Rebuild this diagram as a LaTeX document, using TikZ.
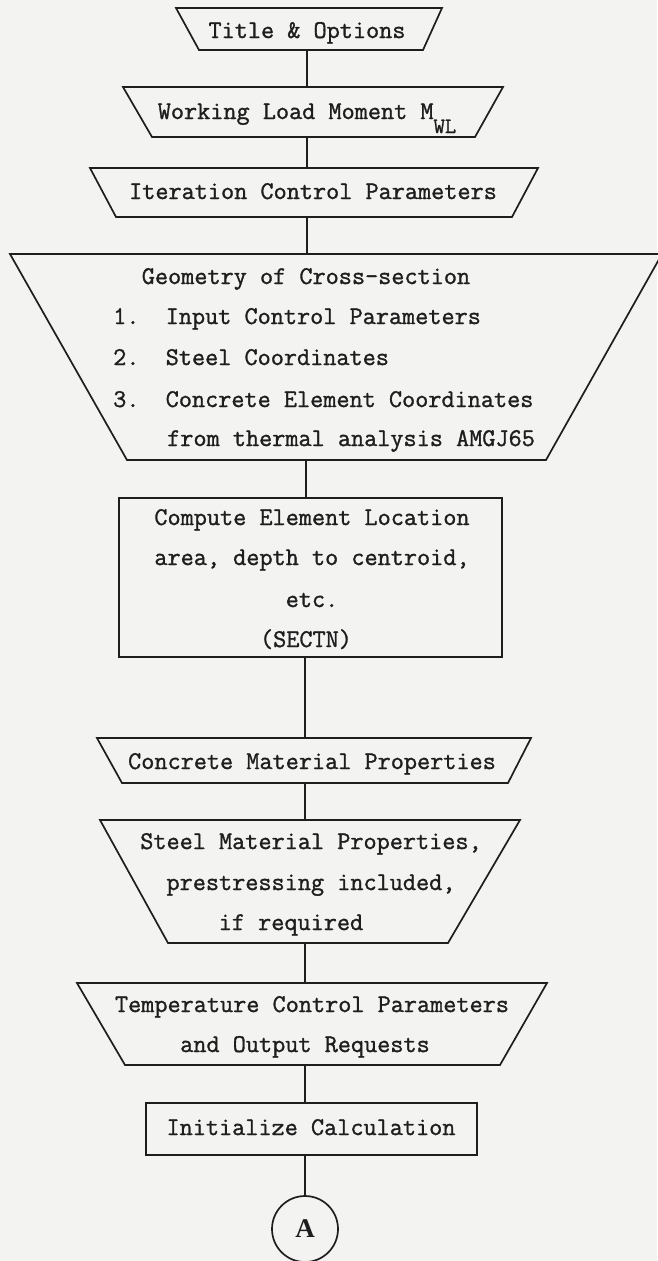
\documentclass[tikz,border=0pt]{standalone}
\usepackage{fontspec}
\newfontfamily\tw[FakeBold=1.2]{Latin Modern Mono}
\newfontfamily\seriff{Liberation Serif}
\definecolor{ink}{RGB}{30,30,30}
\definecolor{paper}{RGB}{243,243,241}
\begin{document}
\begin{tikzpicture}[x=1pt,y=-1pt,
  shp/.style={draw=ink, line width=1.7pt, line join=miter},
  link/.style={draw=ink, line width=1.5pt},
  lbl/.style={inner sep=0pt, anchor=base, text=ink, font=\tw\fontsize{25.5}{25.5}\selectfont},
  lbll/.style={lbl, anchor=base west}]
\fill[paper] (0,0) rectangle (657,1261);
\useasboundingbox (0,0) rectangle (657,1261);

% Title & Options
\draw[shp] (176,8) -- (442,8) -- (423,50) -- (199,50) -- cycle;
\node[lbl] (title) at (307,38) {Title \& Options};
\coordinate (titleB) at (307,50);

% Working load moment
\draw[shp] (123,87) -- (503,87) -- (475,137) -- (152,137) -- cycle;
\node[lbl] (work) at (307,119) {Working Load Moment M\raisebox{-14pt}{\fontsize{22}{22}\selectfont WL}};
\coordinate (workT) at (307,87);
\coordinate (workB) at (307,137);

% Iteration control parameters
\draw[shp] (90,168) -- (538,168) -- (512,217) -- (116,217) -- cycle;
\node[lbl] (iter) at (313,199) {Iteration Control Parameters};
\coordinate (iterT) at (307,168);
\coordinate (iterB) at (307,217);

% Geometry of cross-section
\draw[shp] (10,254) -- (662,254) -- (546,460) -- (127,460) -- cycle;
\node[lbl] (geo) at (306,284) {Geometry of Cross-section};
\node[lbll] (g1) at (113,324) {1.\ \ Input Control Parameters};
\node[lbll] (g2) at (113,365) {2.\ \ Steel Coordinates};
\node[lbll] (g3) at (113,407) {3.\ \ Concrete Element Coordinates};
\node[lbll] (g4) at (167,446) {from thermal analysis AMGJ65};
\coordinate (geoT) at (307,254);
\coordinate (geoB) at (306,460);

% Compute element location
\draw[shp] (119,498) rectangle (502,657);
\node[lbl] (c1) at (312,525) {Compute Element Location};
\node[lbl] (c2) at (312,565) {area, depth to centroid,};
\node[lbl] (c3) at (312,607) {etc.};
\node[lbl] (c4) at (306,647) {(SECTN)};
\coordinate (compT) at (306,498);
\coordinate (compB) at (305,657);

% Concrete material properties
\draw[shp] (97,738) -- (531,738) -- (508,783) -- (122,783) -- cycle;
\node[lbl] (conc) at (312,769) {Concrete Material Properties};
\coordinate (concT) at (305,738);
\coordinate (concB) at (305,783);

% Steel material properties
\draw[shp] (100,820) -- (520,820) -- (448,943) -- (168,943) -- cycle;
\node[lbl] (s1) at (311,849) {Steel Material Properties,};
\node[lbl] (s2) at (311,890) {prestressing included,};
\node[lbl] (s3) at (291,930) {if required};
\coordinate (steelT) at (305,820);
\coordinate (steelB) at (305,943);

% Temperature control parameters
\draw[shp] (77,983) -- (547,983) -- (500,1065) -- (125,1065) -- cycle;
\node[lbl] (t1) at (312,1012) {Temperature Control Parameters};
\node[lbl] (t2) at (305,1052) {and Output Requests};
\coordinate (tempT) at (305,983);
\coordinate (tempB) at (305,1065);

% Initialize calculation
\draw[shp] (146,1103) rectangle (477,1155);
\node[lbl] (init) at (311,1135) {Initialize Calculation};
\coordinate (initT) at (305,1103);
\coordinate (initB) at (305,1155);

% Connector A
\node[circle, draw=ink, line width=1.7pt, minimum size=66pt, inner sep=0pt,
      text=ink, font=\seriff\bfseries\fontsize{27}{27}\selectfont] (A) at (305,1229) {A};

% connectors
\draw[link] (titleB) -- (workT);
\draw[link] (workB) -- (iterT);
\draw[link] (iterB) -- (geoT);
\draw[link] (geoB) -- (compT);
\draw[link] (compB) -- (concT);
\draw[link] (concB) -- (steelT);
\draw[link] (steelB) -- (tempT);
\draw[link] (tempB) -- (initT);
\draw[link] (initB) -- (A.north);
\end{tikzpicture}
\end{document}
